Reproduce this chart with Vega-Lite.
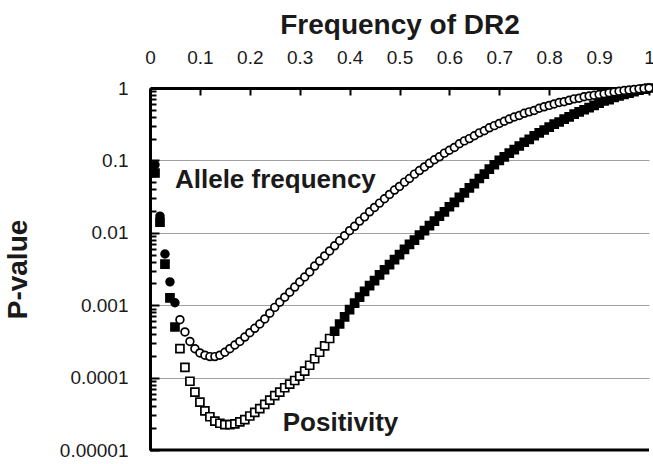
{
  "$schema": "https://vega.github.io/schema/vega-lite/v6.json",
  "width": 499,
  "height": 362,
  "autosize": "none",
  "padding": {"top": 88, "left": 150, "right": 4, "bottom": 14},
  "background": "white",
  "config": {
    "view": {"stroke": null},
    "font": "Liberation Sans"
  },
  "datasets": {
    "points": [
      {"series":"Positivity","freq":0.01,"p":0.067},
      {"series":"Positivity","freq":0.02,"p":0.014},
      {"series":"Positivity","freq":0.03,"p":0.0037},
      {"series":"Positivity","freq":0.04,"p":0.00126},
      {"series":"Positivity","freq":0.05,"p":0.0005},
      {"series":"Positivity","freq":0.06,"p":0.000251},
      {"series":"Positivity","freq":0.07,"p":0.000138},
      {"series":"Positivity","freq":0.08,"p":0.0000891},
      {"series":"Positivity","freq":0.09,"p":0.0000631},
      {"series":"Positivity","freq":0.10,"p":0.0000457},
      {"series":"Positivity","freq":0.11,"p":0.0000347},
      {"series":"Positivity","freq":0.12,"p":0.0000288},
      {"series":"Positivity","freq":0.13,"p":0.0000251},
      {"series":"Positivity","freq":0.14,"p":0.0000234},
      {"series":"Positivity","freq":0.15,"p":0.0000224},
      {"series":"Positivity","freq":0.16,"p":0.0000224},
      {"series":"Positivity","freq":0.17,"p":0.0000229},
      {"series":"Positivity","freq":0.18,"p":0.0000245},
      {"series":"Positivity","freq":0.19,"p":0.0000263},
      {"series":"Positivity","freq":0.20,"p":0.0000295},
      {"series":"Positivity","freq":0.21,"p":0.0000331},
      {"series":"Positivity","freq":0.22,"p":0.0000372},
      {"series":"Positivity","freq":0.23,"p":0.0000427},
      {"series":"Positivity","freq":0.24,"p":0.000049},
      {"series":"Positivity","freq":0.25,"p":0.0000562},
      {"series":"Positivity","freq":0.26,"p":0.0000631},
      {"series":"Positivity","freq":0.27,"p":0.0000724},
      {"series":"Positivity","freq":0.28,"p":0.0000813},
      {"series":"Positivity","freq":0.29,"p":0.0000912},
      {"series":"Positivity","freq":0.30,"p":0.000105},
      {"series":"Positivity","freq":0.31,"p":0.000123},
      {"series":"Positivity","freq":0.32,"p":0.000148},
      {"series":"Positivity","freq":0.33,"p":0.000182},
      {"series":"Positivity","freq":0.34,"p":0.000224},
      {"series":"Positivity","freq":0.35,"p":0.000275},
      {"series":"Positivity","freq":0.36,"p":0.000347},
      {"series":"Positivity","freq":0.37,"p":0.000437},
      {"series":"Positivity","freq":0.38,"p":0.00055},
      {"series":"Positivity","freq":0.39,"p":0.000692},
      {"series":"Positivity","freq":0.40,"p":0.000871},
      {"series":"Positivity","freq":0.41,"p":0.00107},
      {"series":"Positivity","freq":0.42,"p":0.00129},
      {"series":"Positivity","freq":0.43,"p":0.00155},
      {"series":"Positivity","freq":0.44,"p":0.00186},
      {"series":"Positivity","freq":0.45,"p":0.00219},
      {"series":"Positivity","freq":0.46,"p":0.00263},
      {"series":"Positivity","freq":0.47,"p":0.00309},
      {"series":"Positivity","freq":0.48,"p":0.00363},
      {"series":"Positivity","freq":0.49,"p":0.00427},
      {"series":"Positivity","freq":0.50,"p":0.00501},
      {"series":"Positivity","freq":0.51,"p":0.00589},
      {"series":"Positivity","freq":0.52,"p":0.00692},
      {"series":"Positivity","freq":0.53,"p":0.00794},
      {"series":"Positivity","freq":0.54,"p":0.00933},
      {"series":"Positivity","freq":0.55,"p":0.0107},
      {"series":"Positivity","freq":0.56,"p":0.0126},
      {"series":"Positivity","freq":0.57,"p":0.0145},
      {"series":"Positivity","freq":0.58,"p":0.017},
      {"series":"Positivity","freq":0.59,"p":0.0195},
      {"series":"Positivity","freq":0.60,"p":0.0229},
      {"series":"Positivity","freq":0.61,"p":0.0263},
      {"series":"Positivity","freq":0.62,"p":0.0309},
      {"series":"Positivity","freq":0.63,"p":0.0355},
      {"series":"Positivity","freq":0.64,"p":0.0417},
      {"series":"Positivity","freq":0.65,"p":0.0479},
      {"series":"Positivity","freq":0.66,"p":0.0562},
      {"series":"Positivity","freq":0.67,"p":0.0646},
      {"series":"Positivity","freq":0.68,"p":0.0759},
      {"series":"Positivity","freq":0.69,"p":0.0871},
      {"series":"Positivity","freq":0.70,"p":0.1},
      {"series":"Positivity","freq":0.71,"p":0.112},
      {"series":"Positivity","freq":0.72,"p":0.126},
      {"series":"Positivity","freq":0.73,"p":0.141},
      {"series":"Positivity","freq":0.74,"p":0.158},
      {"series":"Positivity","freq":0.75,"p":0.178},
      {"series":"Positivity","freq":0.76,"p":0.195},
      {"series":"Positivity","freq":0.77,"p":0.219},
      {"series":"Positivity","freq":0.78,"p":0.24},
      {"series":"Positivity","freq":0.79,"p":0.263},
      {"series":"Positivity","freq":0.80,"p":0.288},
      {"series":"Positivity","freq":0.81,"p":0.316},
      {"series":"Positivity","freq":0.82,"p":0.339},
      {"series":"Positivity","freq":0.83,"p":0.372},
      {"series":"Positivity","freq":0.84,"p":0.398},
      {"series":"Positivity","freq":0.85,"p":0.437},
      {"series":"Positivity","freq":0.86,"p":0.468},
      {"series":"Positivity","freq":0.87,"p":0.501},
      {"series":"Positivity","freq":0.88,"p":0.537},
      {"series":"Positivity","freq":0.89,"p":0.575},
      {"series":"Positivity","freq":0.90,"p":0.617},
      {"series":"Positivity","freq":0.91,"p":0.661},
      {"series":"Positivity","freq":0.92,"p":0.692},
      {"series":"Positivity","freq":0.93,"p":0.741},
      {"series":"Positivity","freq":0.94,"p":0.776},
      {"series":"Positivity","freq":0.95,"p":0.813},
      {"series":"Positivity","freq":0.96,"p":0.851},
      {"series":"Positivity","freq":0.97,"p":0.891},
      {"series":"Positivity","freq":0.98,"p":0.933},
      {"series":"Positivity","freq":0.99,"p":0.966},
      {"series":"Positivity","freq":1.00,"p":1},
      {"series":"Allele frequency","freq":0.01,"p":0.087},
      {"series":"Allele frequency","freq":0.02,"p":0.017},
      {"series":"Allele frequency","freq":0.03,"p":0.0051},
      {"series":"Allele frequency","freq":0.04,"p":0.0021},
      {"series":"Allele frequency","freq":0.05,"p":0.00108},
      {"series":"Allele frequency","freq":0.06,"p":0.000631},
      {"series":"Allele frequency","freq":0.07,"p":0.000427},
      {"series":"Allele frequency","freq":0.08,"p":0.000316},
      {"series":"Allele frequency","freq":0.09,"p":0.000251},
      {"series":"Allele frequency","freq":0.10,"p":0.000219},
      {"series":"Allele frequency","freq":0.11,"p":0.000204},
      {"series":"Allele frequency","freq":0.12,"p":0.000195},
      {"series":"Allele frequency","freq":0.13,"p":0.000195},
      {"series":"Allele frequency","freq":0.14,"p":0.000204},
      {"series":"Allele frequency","freq":0.15,"p":0.000224},
      {"series":"Allele frequency","freq":0.16,"p":0.000251},
      {"series":"Allele frequency","freq":0.17,"p":0.000282},
      {"series":"Allele frequency","freq":0.18,"p":0.000316},
      {"series":"Allele frequency","freq":0.19,"p":0.000363},
      {"series":"Allele frequency","freq":0.20,"p":0.000417},
      {"series":"Allele frequency","freq":0.21,"p":0.000479},
      {"series":"Allele frequency","freq":0.22,"p":0.00055},
      {"series":"Allele frequency","freq":0.23,"p":0.000646},
      {"series":"Allele frequency","freq":0.24,"p":0.000776},
      {"series":"Allele frequency","freq":0.25,"p":0.000933},
      {"series":"Allele frequency","freq":0.26,"p":0.0011},
      {"series":"Allele frequency","freq":0.27,"p":0.00129},
      {"series":"Allele frequency","freq":0.28,"p":0.00151},
      {"series":"Allele frequency","freq":0.29,"p":0.00178},
      {"series":"Allele frequency","freq":0.30,"p":0.00209},
      {"series":"Allele frequency","freq":0.31,"p":0.00245},
      {"series":"Allele frequency","freq":0.32,"p":0.00288},
      {"series":"Allele frequency","freq":0.33,"p":0.00347},
      {"series":"Allele frequency","freq":0.34,"p":0.00407},
      {"series":"Allele frequency","freq":0.35,"p":0.00479},
      {"series":"Allele frequency","freq":0.36,"p":0.00562},
      {"series":"Allele frequency","freq":0.37,"p":0.00661},
      {"series":"Allele frequency","freq":0.38,"p":0.00776},
      {"series":"Allele frequency","freq":0.39,"p":0.00912},
      {"series":"Allele frequency","freq":0.40,"p":0.0107},
      {"series":"Allele frequency","freq":0.41,"p":0.0123},
      {"series":"Allele frequency","freq":0.42,"p":0.0145},
      {"series":"Allele frequency","freq":0.43,"p":0.0166},
      {"series":"Allele frequency","freq":0.44,"p":0.0195},
      {"series":"Allele frequency","freq":0.45,"p":0.0224},
      {"series":"Allele frequency","freq":0.46,"p":0.0257},
      {"series":"Allele frequency","freq":0.47,"p":0.0295},
      {"series":"Allele frequency","freq":0.48,"p":0.0339},
      {"series":"Allele frequency","freq":0.49,"p":0.0389},
      {"series":"Allele frequency","freq":0.50,"p":0.0437},
      {"series":"Allele frequency","freq":0.51,"p":0.0501},
      {"series":"Allele frequency","freq":0.52,"p":0.0562},
      {"series":"Allele frequency","freq":0.53,"p":0.0646},
      {"series":"Allele frequency","freq":0.54,"p":0.0724},
      {"series":"Allele frequency","freq":0.55,"p":0.0813},
      {"series":"Allele frequency","freq":0.56,"p":0.0912},
      {"series":"Allele frequency","freq":0.57,"p":0.102},
      {"series":"Allele frequency","freq":0.58,"p":0.112},
      {"series":"Allele frequency","freq":0.59,"p":0.126},
      {"series":"Allele frequency","freq":0.60,"p":0.138},
      {"series":"Allele frequency","freq":0.61,"p":0.151},
      {"series":"Allele frequency","freq":0.62,"p":0.17},
      {"series":"Allele frequency","freq":0.63,"p":0.186},
      {"series":"Allele frequency","freq":0.64,"p":0.2},
      {"series":"Allele frequency","freq":0.65,"p":0.219},
      {"series":"Allele frequency","freq":0.66,"p":0.24},
      {"series":"Allele frequency","freq":0.67,"p":0.257},
      {"series":"Allele frequency","freq":0.68,"p":0.282},
      {"series":"Allele frequency","freq":0.69,"p":0.302},
      {"series":"Allele frequency","freq":0.70,"p":0.324},
      {"series":"Allele frequency","freq":0.71,"p":0.347},
      {"series":"Allele frequency","freq":0.72,"p":0.372},
      {"series":"Allele frequency","freq":0.73,"p":0.398},
      {"series":"Allele frequency","freq":0.74,"p":0.417},
      {"series":"Allele frequency","freq":0.75,"p":0.447},
      {"series":"Allele frequency","freq":0.76,"p":0.468},
      {"series":"Allele frequency","freq":0.77,"p":0.49},
      {"series":"Allele frequency","freq":0.78,"p":0.525},
      {"series":"Allele frequency","freq":0.79,"p":0.55},
      {"series":"Allele frequency","freq":0.80,"p":0.575},
      {"series":"Allele frequency","freq":0.81,"p":0.603},
      {"series":"Allele frequency","freq":0.82,"p":0.631},
      {"series":"Allele frequency","freq":0.83,"p":0.646},
      {"series":"Allele frequency","freq":0.84,"p":0.676},
      {"series":"Allele frequency","freq":0.85,"p":0.708},
      {"series":"Allele frequency","freq":0.86,"p":0.724},
      {"series":"Allele frequency","freq":0.87,"p":0.759},
      {"series":"Allele frequency","freq":0.88,"p":0.776},
      {"series":"Allele frequency","freq":0.89,"p":0.794},
      {"series":"Allele frequency","freq":0.90,"p":0.813},
      {"series":"Allele frequency","freq":0.91,"p":0.832},
      {"series":"Allele frequency","freq":0.92,"p":0.861},
      {"series":"Allele frequency","freq":0.93,"p":0.881},
      {"series":"Allele frequency","freq":0.94,"p":0.902},
      {"series":"Allele frequency","freq":0.95,"p":0.923},
      {"series":"Allele frequency","freq":0.96,"p":0.94},
      {"series":"Allele frequency","freq":0.97,"p":0.955},
      {"series":"Allele frequency","freq":0.98,"p":0.973},
      {"series":"Allele frequency","freq":0.99,"p":0.986},
      {"series":"Allele frequency","freq":1.00,"p":1}
    ],
    "labels": [
      {"label":"Allele frequency","freq":0.05,"p":0.054},
      {"label":"Positivity","freq":0.266,"p":0.0000233}
    ]
  },
  "layer": [
    {
      "data": {"name": "points"},
      "mark": {"type": "point", "filled": false, "strokeWidth": 1.7, "opacity": 1, "stroke": "black"},
      "encoding": {
        "x": {
          "field": "freq", "type": "quantitative",
          "scale": {"domain": [0, 1], "nice": false},
          "axis": {
            "orient": "top",
            "title": "Frequency of DR2",
            "titleFont": "Liberation Sans", "titleFontSize": 28, "titleFontWeight": "bold", "titleColor": "#1a1a1a",
            "titlePadding": 9,
            "values": [0, 0.1, 0.2, 0.3, 0.4, 0.5, 0.6, 0.7, 0.8, 0.9, 1],
            "labelExpr": "datum.value == 0 ? '0' : datum.value == 1 ? '1' : format(datum.value, '.1f')",
            "labelFont": "Liberation Sans", "labelFontSize": 19, "labelColor": "#1a1a1a",
            "labelPadding": 28, "labelFlush": false, "labelOverlap": false,
            "tickSize": -7, "tickWidth": 2, "tickColor": "black",
            "domainWidth": 3, "domainColor": "black",
            "grid": false
          }
        },
        "y": {
          "field": "p", "type": "quantitative",
          "scale": {"type": "log", "domain": [0.00001, 1], "nice": false},
          "axis": {
            "title": "P-value",
            "titleFont": "Liberation Sans", "titleFontSize": 28, "titleFontWeight": "bold", "titleColor": "#1a1a1a",
            "titlePadding": 27,
            "values": [0.00001,0.00002,0.00003,0.00004,0.00005,0.00006,0.00007,0.00008,0.00009,
                       0.0001,0.0002,0.0003,0.0004,0.0005,0.0006,0.0007,0.0008,0.0009,
                       0.001,0.002,0.003,0.004,0.005,0.006,0.007,0.008,0.009,
                       0.01,0.02,0.03,0.04,0.05,0.06,0.07,0.08,0.09,
                       0.1,0.2,0.3,0.4,0.5,0.6,0.7,0.8,0.9,1],
            "labelExpr": "datum.value == 1 ? '1' : datum.value == 0.1 ? '0.1' : datum.value == 0.01 ? '0.01' : datum.value == 0.001 ? '0.001' : datum.value == 0.0001 ? '0.0001' : datum.value == 0.00001 ? '0.00001' : ''",
            "labelFont": "Liberation Sans", "labelFontSize": 19, "labelColor": "#1a1a1a",
            "labelPadding": 31, "labelFlush": false, "labelOverlap": false,
            "tickSize": {"condition": {"test": "datum.value == 1 || datum.value == 0.1 || datum.value == 0.01 || datum.value == 0.001 || datum.value == 0.0001 || datum.value == 0.00001", "value": -9}, "value": -6},
            "tickWidth": 2, "tickColor": "black",
            "domainWidth": 3, "domainColor": "black",
            "grid": true,
            "gridColor": "#a0a0a0",
            "gridWidth": 1.2,
            "gridOpacity": {"condition": {"test": "datum.value == 0.1 || datum.value == 0.01 || datum.value == 0.001 || datum.value == 0.0001", "value": 1}, "value": 0}
          }
        },
        "shape": {
          "field": "series", "type": "nominal",
          "scale": {"domain": ["Positivity", "Allele frequency"], "range": ["square", "circle"]},
          "legend": null
        },
        "size": {
          "field": "series", "type": "nominal",
          "scale": {"domain": ["Positivity", "Allele frequency"], "range": [64, 60]},
          "legend": null
        },
        "fill": {
          "condition": {
            "test": "datum.freq < 0.055 || (datum.series == 'Positivity' && datum.freq > 0.365)",
            "value": "black"
          },
          "value": "white"
        }
      }
    },
    {
      "data": {"name": "labels"},
      "mark": {"type": "text", "font": "Liberation Sans", "fontSize": 26, "fontWeight": "bold", "align": "left", "baseline": "middle", "color": "#1a1a1a"},
      "encoding": {
        "x": {"field": "freq", "type": "quantitative"},
        "y": {"field": "p", "type": "quantitative"},
        "text": {"field": "label"}
      }
    },
    {
      "data": {"values": [{}]},
      "mark": {"type": "rule", "color": "black", "strokeWidth": 3},
      "encoding": {
        "y": {"datum": 0.00001, "type": "quantitative"}
      }
    }
  ]
}
